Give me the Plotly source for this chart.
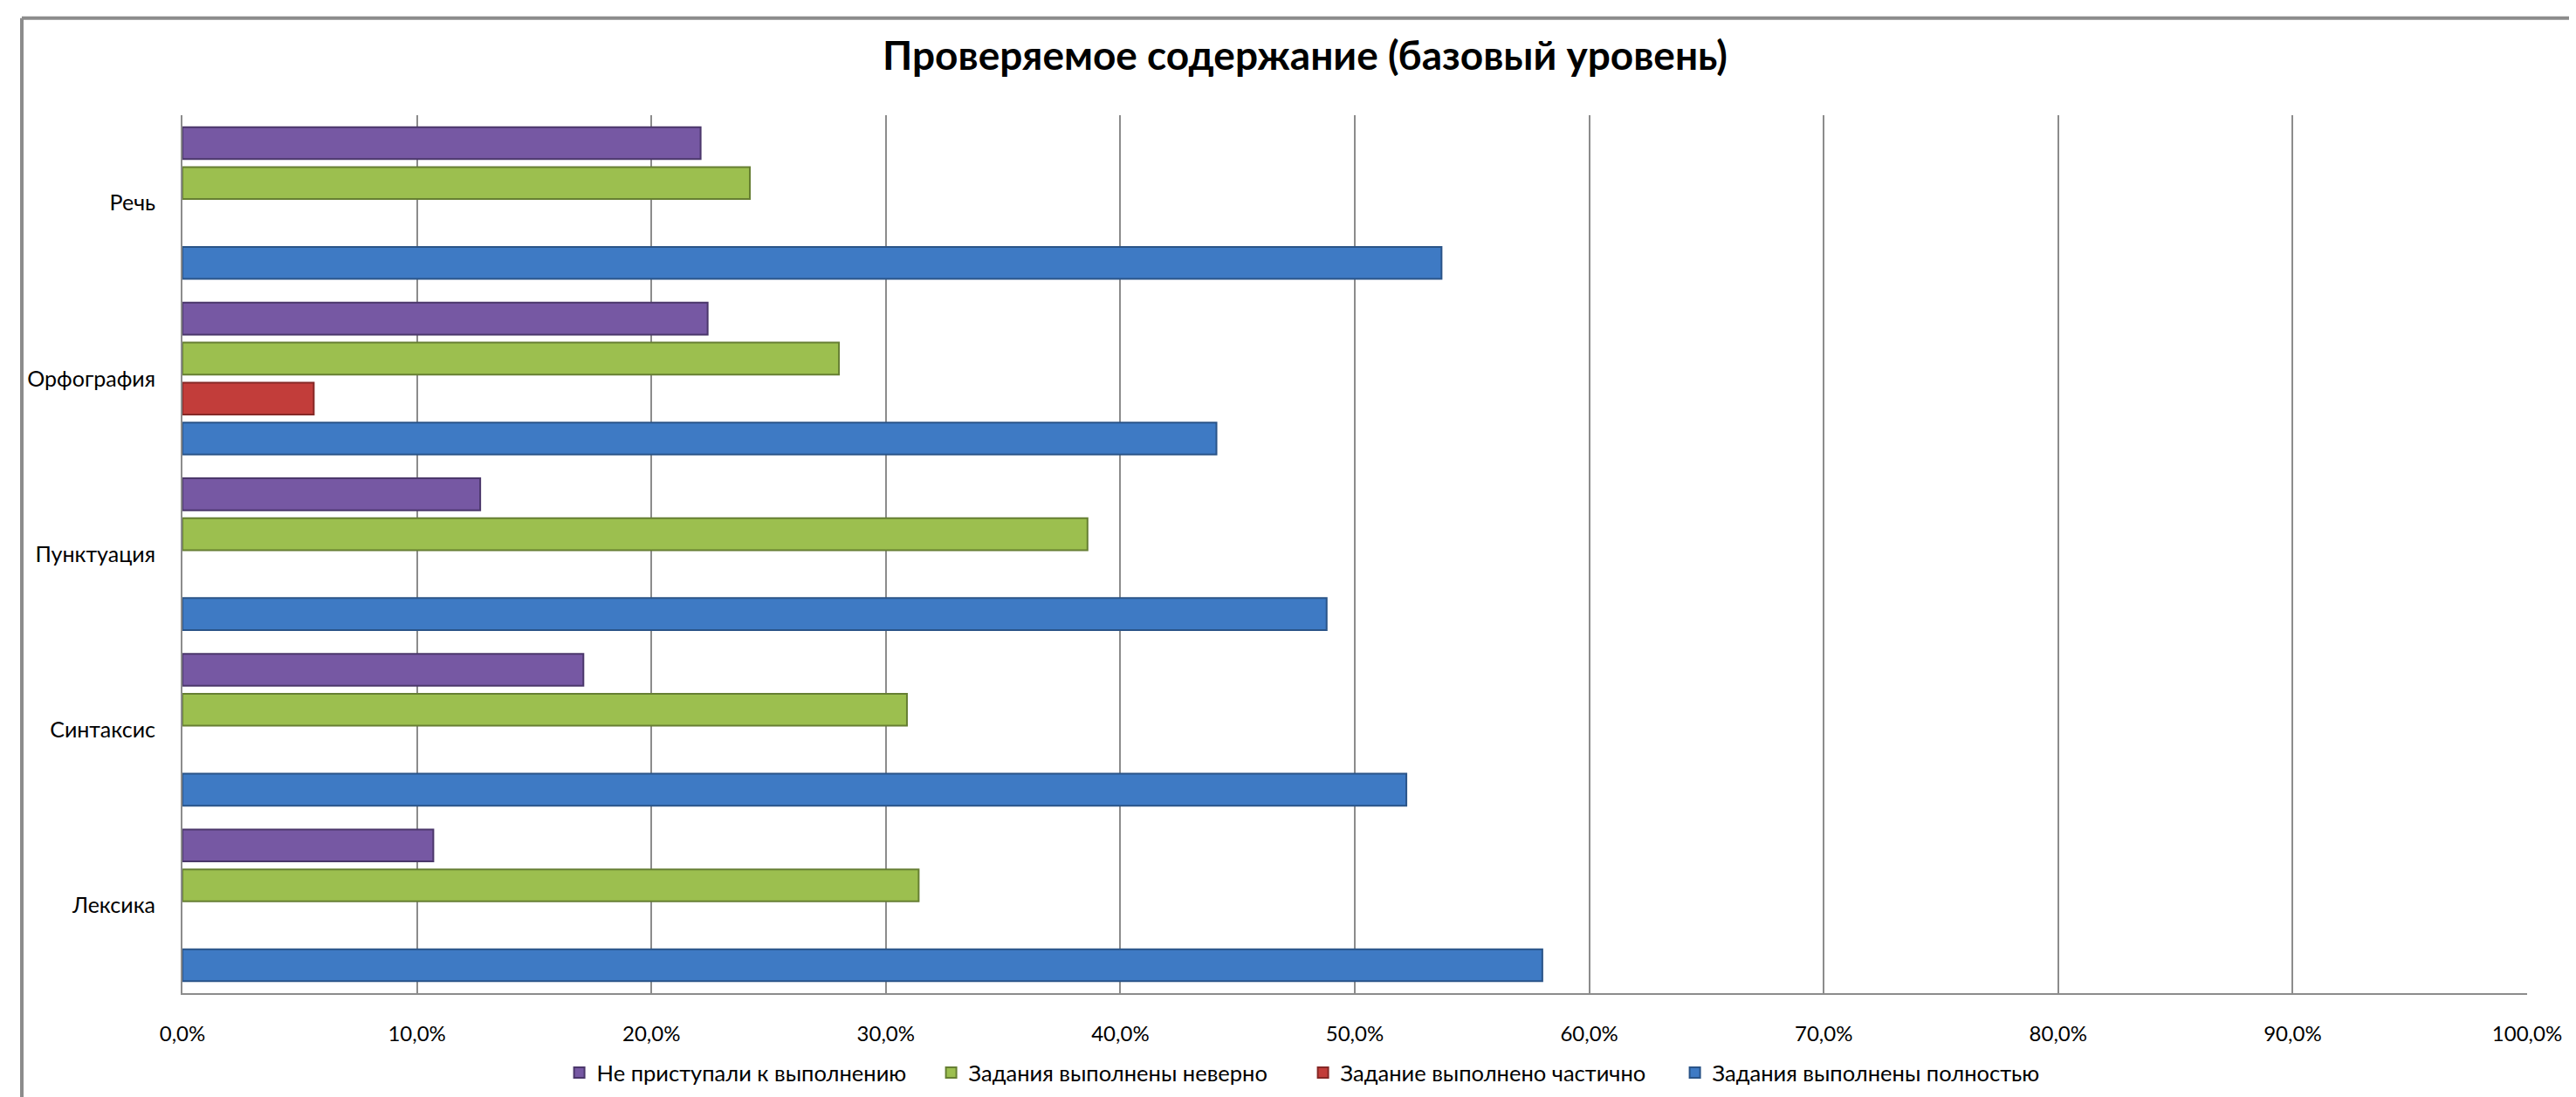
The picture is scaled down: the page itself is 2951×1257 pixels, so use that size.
import plotly.graph_objects as go

categories = ["Лексика", "Синтаксис", "Пунктуация", "Орфография", "Речь"]

full_done = [0.580, 0.522, 0.488, 0.441, 0.537]      # Задания выполнены полностью
partial_done = [None, None, None, 0.056, None]       # Задание выполнено частично
wrong_done = [0.314, 0.309, 0.386, 0.280, 0.242]     # Задания выполнены неверно
not_started = [0.107, 0.171, 0.127, 0.224, 0.221]    # Не приступали к выполнению

tick_vals = [i / 10 for i in range(11)]
tick_text = ["0,0%", "10,0%", "20,0%", "30,0%", "40,0%", "50,0%",
             "60,0%", "70,0%", "80,0%", "90,0%", "100,0%"]

series = [
    ("Задания выполнены полностью", full_done, "#3e7ac4", "#2a5488"),
    ("Задание выполнено частично", partial_done, "#c23d3a", "#852826"),
    ("Задания выполнены неверно", wrong_done, "#9cbf4f", "#667f33"),
    ("Не приступали к выполнению", not_started, "#7658a3", "#4b376b"),
]

FONT = "Lato, 'Open Sans', sans-serif"

fig = go.Figure()
for name, vals, color, edge in series:
    fig.add_trace(go.Bar(
        y=categories, x=vals, name=name, orientation="h",
        marker=dict(color=color, line=dict(color=edge, width=2)),
    ))

W, H = 2951, 1257
L, R, T, B = 201, 64, 124, 121
pw, ph = W - L - R, H - T - B

def px_x(x):
    return (x - L) / pw

def px_y(y):
    return (H - B - y) / ph

fig.update_layout(
    width=W, height=H,
    margin=dict(l=L, r=R, t=T, b=B),
    paper_bgcolor="white", plot_bgcolor="white",
    barmode="group", bargap=0.09, bargroupgap=0.2,
    font=dict(family=FONT, size=26, color="#000000"),
    title=dict(text="<b>Проверяемое содержание (базовый уровень)</b>",
               x=px_x(1487), xanchor="center", xref="paper",
               y=1 - 56 / H, yanchor="middle",
               font=dict(family=FONT, size=46, color="#000000")),
    xaxis=dict(range=[0, 1], tickvals=tick_vals, ticktext=tick_text,
               showgrid=True, gridcolor="#8c8c8c", gridwidth=2,
               showline=True, linecolor="#8c8c8c", linewidth=2,
               zeroline=False, ticks="", ticklabelstandoff=24,
               tickfont=dict(size=24)),
    yaxis=dict(showgrid=False, showline=True, linecolor="#8c8c8c", linewidth=2,
               ticks="", ticklabelstandoff=24, tickfont=dict(size=25)),
    legend=dict(orientation="h", traceorder="reversed",
                x=0.479, xanchor="center", y=px_y(1228), yanchor="middle",
                font=dict(size=25.5), entrywidth=381, entrywidthmode="pixels",
                itemwidth=30),
    showlegend=True,
)

# outer chart frame (top and left edges visible in the picture)
fig.add_shape(type="line", xref="paper", yref="paper",
              x0=px_x(17), x1=px_x(W + 5), y0=px_y(12), y1=px_y(12),
              line=dict(color="#8c8c8c", width=4))
fig.add_shape(type="line", xref="paper", yref="paper",
              x0=px_x(17), x1=px_x(17), y0=px_y(12), y1=px_y(H + 5),
              line=dict(color="#8c8c8c", width=4))

fig.write_html("out.html")
